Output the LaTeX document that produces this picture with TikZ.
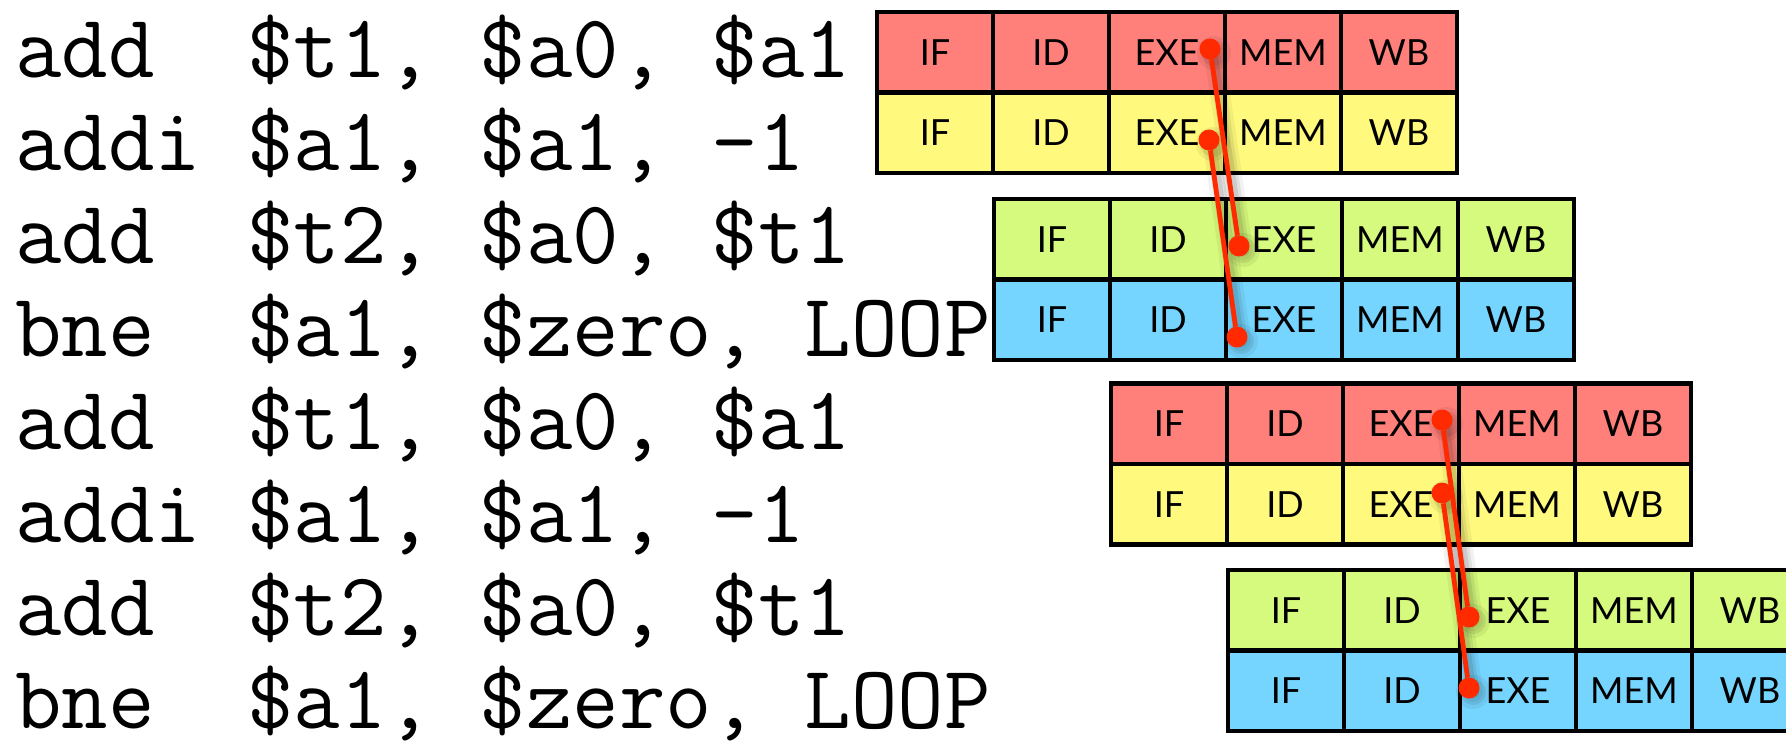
\documentclass[tikz,border=0pt]{standalone}
\usepackage{fontspec}
\newfontfamily\stagefont{Lato}
\usetikzlibrary{calc}
\definecolor{stRed}{RGB}{255,128,122}
\definecolor{stYellow}{RGB}{255,250,125}
\definecolor{stGreen}{RGB}{214,250,125}
\definecolor{stBlue}{RGB}{118,213,255}
\definecolor{hazRed}{RGB}{255,42,0}

% one instruction's five pipeline stages: name, left x, top y, fill
\newcommand\stagerow[4]{%
  \foreach \s [count=\i] in {IF,ID,EXE,MEM,WB}
    \node[cell, fill=#4] (#1-\i) at ({#2+(\i-1)*116},#3) {\s};%
}

\begin{document}
\begin{tikzpicture}[x=1pt,y=-1pt,
  cell/.style={draw=black, line width=4.5pt, minimum width=116pt,
    minimum height=80.5pt, inner sep=0pt, outer sep=0pt, anchor=north west,
    font=\stagefont\fontsize{36}{36}\selectfont},
  asm/.style={anchor=base west, inner sep=0pt,
    font=\ttfamily\fontsize{90.2}{91}\selectfont},
  hazdot/.style={circle, fill=hazRed, minimum size=21pt, inner sep=0pt, outer sep=0pt},
  hazard/.style={draw=hazRed, line width=4.8pt},
  haze/.style={draw=black, line cap=round}
]
\path[use as bounding box, clip] (0,0) rectangle (1786,741);
\fill[white] (0,0) rectangle (1786,741);

% instruction listing
\node[asm] (i1) at (15,78)    {add\ \ \$t1,\ \$a0,\ \$a1};
\node[asm] (i2) at (15,170.9) {addi\ \$a1,\ \$a1,\ -1};
\node[asm] (i3) at (15,263.7) {add\ \ \$t2,\ \$a0,\ \$t1};
\node[asm] (i4) at (15,356.6) {bne\ \ \$a1,\ \$zero,\ LOOP};
\node[asm] (i5) at (15,449.4) {add\ \ \$t1,\ \$a0,\ \$a1};
\node[asm] (i6) at (15,542.3) {addi\ \$a1,\ \$a1,\ -1};
\node[asm] (i7) at (15,635.1) {add\ \ \$t2,\ \$a0,\ \$t1};
\node[asm] (i8) at (15,728)   {bne\ \ \$a1,\ \$zero,\ LOOP};

% pipeline diagram
\stagerow{p1}{877}{12}{stRed}
\stagerow{p2}{877}{92.5}{stYellow}
\stagerow{p3}{994}{199}{stGreen}
\stagerow{p4}{994}{279.5}{stBlue}
\stagerow{p5}{1111}{383.5}{stRed}
\stagerow{p6}{1111}{464}{stYellow}
\stagerow{p7}{1228}{570}{stGreen}
\stagerow{p8}{1228}{650.5}{stBlue}

% forwarding points
\coordinate (f1) at (1210,49);
\coordinate (f2) at (1209,140);
\coordinate (f3) at (1239,246);
\coordinate (f4) at (1237,337);
\coordinate (f5) at (1442,420);
\coordinate (f6) at (1442,493);
\coordinate (f7) at (1469,617);
\coordinate (f8) at (1469,688);

% soft drop shadow under the forwarding paths
\foreach \a/\b in {f1/f3,f2/f4,f5/f7,f6/f8}{
  \draw[haze, line width=20pt, opacity=0.05] ($(\a)+(4,4)$) -- ($(\b)+(4,4)$);
  \draw[haze, line width=13pt, opacity=0.07] ($(\a)+(4,4)$) -- ($(\b)+(4,4)$);
  \draw[haze, line width=7pt, opacity=0.09] ($(\a)+(4,4)$) -- ($(\b)+(4,4)$);
}
\foreach \k in {1,...,8}{
  \fill[black, opacity=0.06] ($(f\k)+(4,4)$) circle (17pt);
  \fill[black, opacity=0.08] ($(f\k)+(4,4)$) circle (13pt);
}

% forwarding dots and paths
\foreach \k in {1,...,8}
  \node[hazdot] (dot\k) at (f\k) {};
\draw[hazard] (dot1) -- (dot3);
\draw[hazard] (dot2) -- (dot4);
\draw[hazard] (dot5) -- (dot7);
\draw[hazard] (dot6) -- (dot8);
\end{tikzpicture}
\end{document}
